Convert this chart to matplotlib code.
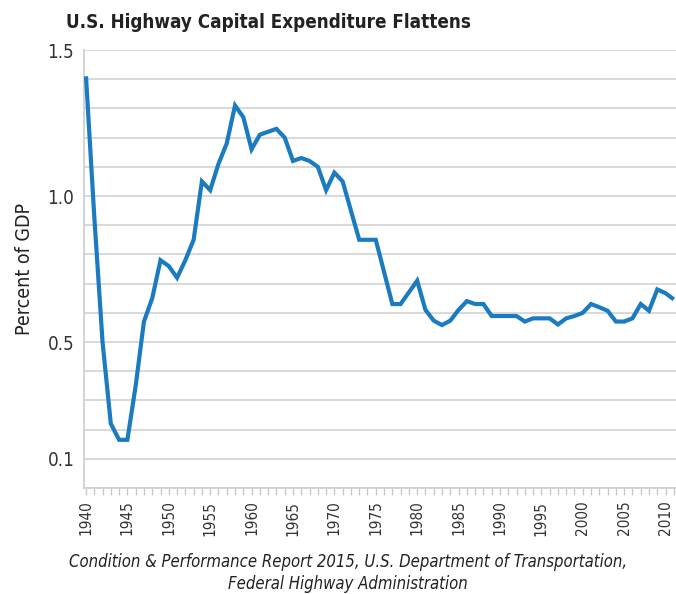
import matplotlib
matplotlib.use("Agg")
import matplotlib.pyplot as plt
from matplotlib.ticker import MultipleLocator

# percent of GDP
years = list(range(1940, 2012))
pct_gdp = [
    1.41, 0.93, 0.50, 0.22, 0.165, 0.165, 0.35, 0.57, 0.65, 0.78,   # 1940-49
    0.76, 0.72, 0.78, 0.85, 1.05, 1.02, 1.11, 1.18, 1.31, 1.27,     # 1950-59
    1.16, 1.21, 1.22, 1.23, 1.20, 1.12, 1.13, 1.12, 1.10, 1.02,     # 1960-69
    1.08, 1.05, 0.95, 0.85, 0.85, 0.85, 0.74, 0.63, 0.63, 0.67,     # 1970-79
    0.71, 0.61, 0.573, 0.558, 0.573, 0.61, 0.64, 0.63, 0.63, 0.589, # 1980-89
    0.589, 0.589, 0.589, 0.57, 0.581, 0.581, 0.581, 0.56, 0.581, 0.589,  # 1990-99
    0.60, 0.63, 0.619, 0.607, 0.57, 0.57, 0.581, 0.63, 0.607, 0.68,  # 2000-09
    0.667, 0.646,                                                   # 2010-11
]
xtick_years = list(range(1940, 2015, 5))
ytick_vals = [0.1, 0.5, 1.0, 1.5]

title = "U.S. Highway Capital Expenditure Flattens"
ylabel = "Percent of GDP"
source = ("Condition & Performance Report 2015, U.S. Department of Transportation,\n"
          "Federal Highway Administration")

plt.rcParams['font.family'] = 'DejaVu Sans'
plt.rcParams['font.stretch'] = 'condensed'

fig = plt.figure(figsize=(6.76, 5.94), dpi=100)
ax = fig.add_axes([84 / 676, 106 / 594, 592 / 676, 438 / 594])

ax.plot(years, pct_gdp, color='#1b7bc0', linewidth=3.0, solid_joinstyle='miter',
        solid_capstyle='butt', zorder=3)

ax.set_xlim(1939.76, 2011.26)
ax.set_ylim(0, 1.5)

# light grid every 0.1, labels only at a few values
ax.yaxis.set_minor_locator(MultipleLocator(0.1))
ax.set_yticks(ytick_vals)
ax.set_yticklabels([f"{v:.1f}" for v in ytick_vals])
ax.grid(axis='y', which='both', color='#d6d6d6', linewidth=1.3, zorder=0)
ax.tick_params(axis='y', which='both', length=0, pad=7, labelsize=13.5, labelcolor='#333333')

ax.set_xticks(xtick_years)
ax.set_xticklabels([str(y) for y in xtick_years], rotation=90)
ax.xaxis.set_minor_locator(MultipleLocator(1))
ax.tick_params(axis='x', which='both', direction='out', length=5, width=1,
               color='#c8c8c8', labelsize=11, labelcolor='#333333', pad=4)

for side in ['top', 'right']:
    ax.spines[side].set_visible(False)
for side in ['left', 'bottom']:
    ax.spines[side].set_color('#d0d0d0')
    ax.spines[side].set_linewidth(1.3)

ax.set_ylabel(ylabel, fontsize=14, color='#222222', labelpad=10)

fig.text(268 / 676, 1 - 23 / 594, title, ha='center', va='center',
         fontsize=13.5, fontweight='bold', color='#222222')
fig.text(348 / 676, 1 - 573 / 594, source, ha='center', va='center',
         fontsize=12, style='italic', color='#222222', linespacing=1.35)

fig.savefig('out.png', dpi=100)
